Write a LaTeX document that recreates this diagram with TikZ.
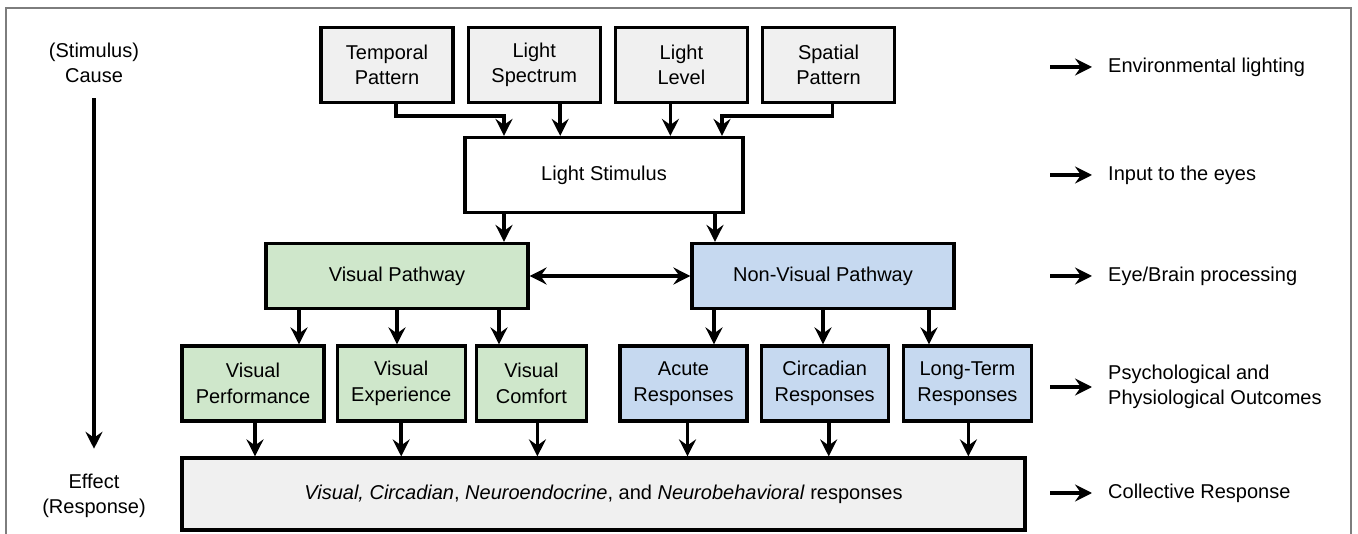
\documentclass[tikz,border=0pt]{standalone}
\usepackage{fontspec}
\setmainfont{Liberation Sans}
\usetikzlibrary{positioning,arrows.meta}
\definecolor{boxgray}{RGB}{240,240,240}
\definecolor{visgreen}{RGB}{207,231,203}
\definecolor{nvblue}{RGB}{198,217,240}
\definecolor{framegray}{RGB}{125,125,125}

\begin{document}
\begin{tikzpicture}[x=1pt, y=-1pt, font=\fontsize{20}{25.5}\selectfont,
  box/.style={draw=black, line width=3.2pt, align=center, inner sep=0pt, minimum height=75pt, fill=boxgray},
  plain/.style={box, fill=white},
  vis/.style={box, fill=visgreen},
  nvis/.style={box, fill=nvblue},
  lab/.style={align=center, inner sep=0pt},
  note/.style={anchor=west, align=left, inner sep=0pt},
  arr/.style={-{Stealth[length=17pt,width=17pt,inset=6pt]}, line width=3.6pt},
  dblarr/.style={arr, {Stealth[length=17pt,width=17pt,inset=6pt]}-{Stealth[length=17pt,width=17pt,inset=6pt]}}]
\useasboundingbox (0,0) rectangle (1358,534);
\draw[framegray, line width=1.6pt] (6,560) -- (6,8) -- (1351,8) -- (1351,560);
% cause / effect axis
\node[lab] (cause) at (94,63) {(Stimulus)\\Cause};
\node[lab] (effect) at (94,496) {Effect\\(Response)};
\draw[arr] ([yshift=-15pt]cause.south) -- ([yshift=25pt]effect.north);
% light properties
\node[box, minimum width=132pt] (temp) at (387,65) {Temporal\\Pattern};
\node[box, minimum width=132pt, right=12pt of temp] (spec) {Light\\Spectrum};
\node[box, minimum width=132pt, right=12pt of spec] (lev) {Light\\Level};
\node[box, minimum width=132pt, right=12pt of lev] (spat) {Spatial\\Pattern};
\node[plain, minimum width=278pt] (stim) at (604,175) {Light Stimulus};
% pathways
\node[vis, minimum width=262pt, minimum height=65pt] (vpath) at (397,276) {Visual Pathway};
\node[nvis, minimum width=262pt, minimum height=65pt] (nvpath) at (823,276) {Non-Visual Pathway};
\node[vis, minimum width=142pt] (perf) at (253,383.5) {Visual\\Performance};
\node[vis, minimum width=128pt, right=10pt of perf] (expe) {Visual\\Experience};
\node[vis, minimum width=110pt, right=8pt of expe] (comf) {Visual\\Comfort};
\node[nvis, minimum width=127pt] (acute) at (683.5,383.5) {Acute\\Responses};
\node[nvis, minimum width=127pt, right=11pt of acute] (circ) {Circadian\\Responses};
\node[nvis, minimum width=128pt, right=12pt of circ] (longt) {Long-Term\\Responses};
\node[box, minimum width=843pt, minimum height=72pt] (resp) at (603.5,494) {\textit{Visual, Circadian}, \textit{Neuroendocrine}, and \textit{Neurobehavioral} responses};
% level notes
\node[note] (env) at (1108,67) {Environmental lighting};
\node[note] (inp) at (1108,175) {Input to the eyes};
\node[note] (proc) at (1108,276) {Eye/Brain processing};
\node[note] (outc) at (1108,387) {Psychological and\\Physiological Outcomes};
\node[note] (coll) at (1108,493) {Collective Response};
\foreach \n in {env,inp,proc,outc,coll} \draw[arr] ([xshift=-58pt]\n.west) -- ([xshift=-16pt]\n.west);
% connectors
\draw[arr] ([xshift=9pt]temp.south) -- ++(0,12) -| ([xshift=-100pt]stim.north);
\draw[arr] ([xshift=26pt]spec.south) -- ([xshift=26pt]spec.south |- stim.north);
\draw[arr] ([xshift=-11pt]lev.south) -- ([xshift=-11pt]lev.south |- stim.north);
\draw[arr] ([xshift=4pt]spat.south) -- ++(0,12) -| ([xshift=118pt]stim.north);
\draw[arr] ([xshift=-100pt]stim.south) -- ([xshift=-100pt]stim.south |- vpath.north);
\draw[arr] ([xshift=111pt]stim.south) -- ([xshift=111pt]stim.south |- nvpath.north);
\draw[dblarr] (vpath) -- (nvpath);
\foreach \dx/\t in {-98/perf,0/expe,102/comf} \draw[arr] ([xshift=\dx pt]vpath.south) -- ([xshift=\dx pt]vpath.south |- \t.north);
\foreach \dx/\t in {-109/acute,0/circ,106/longt} \draw[arr] ([xshift=\dx pt]nvpath.south) -- ([xshift=\dx pt]nvpath.south |- \t.north);
\foreach \s/\dx in {perf/2,expe/0,comf/6,acute/4,circ/4,longt/1} \draw[arr] ([xshift=\dx pt]\s.south) -- ([xshift=\dx pt]\s.south |- resp.north);
\end{tikzpicture}
\end{document}
